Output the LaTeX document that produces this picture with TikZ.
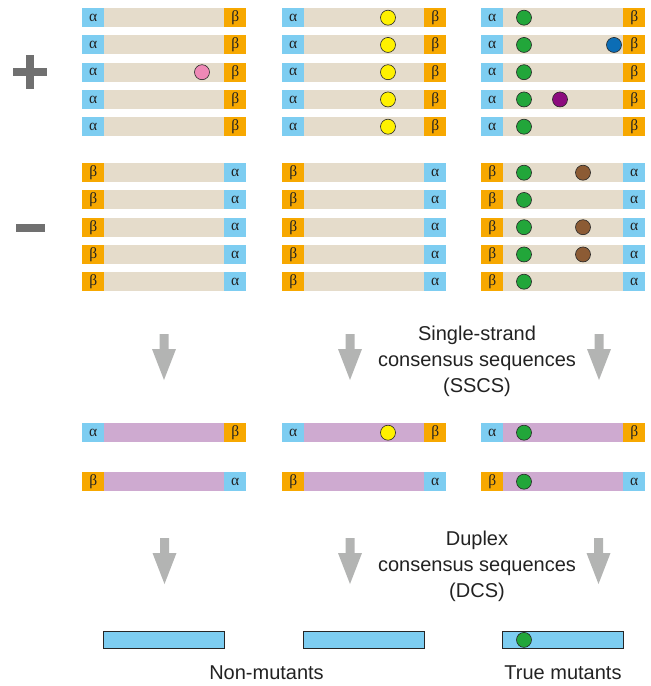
\documentclass[tikz,border=0pt]{standalone}
\usepackage{fontspec}
\setmainfont{Liberation Sans}
\newfontfamily\greekfont{Liberation Serif}
\usetikzlibrary{positioning}

\definecolor{beige}{HTML}{E5DCCB}
\definecolor{alphablue}{HTML}{7DCDF1}
\definecolor{betaorange}{HTML}{F7A800}
\definecolor{lilac}{HTML}{CEAAD0}
\definecolor{arrowgray}{HTML}{B3B4B3}
\definecolor{signgray}{HTML}{707070}
\definecolor{dotgreen}{HTML}{22A63A}
\definecolor{dotyellow}{HTML}{FFF100}
\definecolor{dotpink}{HTML}{EF89B6}
\definecolor{dotblue}{HTML}{0C6DB5}
\definecolor{dotpurple}{HTML}{8C0B7E}
\definecolor{dotbrown}{HTML}{8C5B34}
\definecolor{inktext}{HTML}{222222}

\begin{document}
\begin{tikzpicture}[
x=1pt,y=-1pt,
strand/.style={
  draw=none,
  fill=beige,
  minimum width=164pt,
  minimum height=19pt,
  inner sep=0pt,
  anchor=north west
  },
tag/.style={
  minimum width=22pt,
  minimum height=19pt,
  inner sep=0pt,
  text=inktext,
  font=\greekfont\fontsize{15.5}{15.5}\selectfont
  },
tagA/.style={tag, fill=alphablue},
tagB/.style={tag, fill=betaorange},
dot/.style={
  circle,
  draw=black!85,
  line width=0.6pt,
  minimum size=15pt,
  inner sep=0pt
  },
dcsbar/.style={
  draw=black!85,
  fill=alphablue,
  line width=0.8pt,
  minimum width=121pt,
  minimum height=17pt,
  inner sep=0pt,
  anchor=north west
  },
caption/.style={
  align=center,
  text=inktext,
  font=\fontsize{20}{26}\selectfont
  },
blockarrow/.style={fill=arrowgray, draw=none}
]
\useasboundingbox (0,0) rectangle (651,686);

% plus and minus signs
\fill[signgray] (13,68) rectangle (47,76);
\fill[signgray] (26,55) rectangle (34,89);
\fill[signgray] (16,224) rectangle (45,232);

% reads
\foreach \g/\gx in {1/82,2/282,3/481}
{\foreach \r in {1,...,5}
  {\pgfmathsetmacro\py{8+27.25*(\r-1)}
   \pgfmathsetmacro\my{163+27.25*(\r-1)}
   \node[strand] (p-\g-\r) at (\gx,\py) {};
   \node[tagA, anchor=west] (pa-\g-\r) at (p-\g-\r.west) {α};
   \node[tagB, anchor=east] (pb-\g-\r) at (p-\g-\r.east) {β};
   \node[strand] (m-\g-\r) at (\gx,\my) {};
   \node[tagB, anchor=west] (mb-\g-\r) at (m-\g-\r.west) {β};
   \node[tagA, anchor=east] (ma-\g-\r) at (m-\g-\r.east) {α};
  }
}

% mutations in the reads
\node[dot, fill=dotpink] (pk-1-3) at ([xshift=120pt]p-1-3.west) {};
\foreach \r in {1,...,5}
{\node[dot, fill=dotyellow] (py-2-\r) at ([xshift=106pt]p-2-\r.west) {};
 \node[dot, fill=dotgreen] (pg-3-\r) at ([xshift=43pt]p-3-\r.west) {};
 \node[dot, fill=dotgreen] (mg-3-\r) at ([xshift=43pt]m-3-\r.west) {};
}
\node[dot, fill=dotblue] (pbl-3-2) at ([xshift=133pt]p-3-2.west) {};
\node[dot, fill=dotpurple] (pp-3-4) at ([xshift=79pt]p-3-4.west) {};
\foreach \r in {1,3,4}
  \node[dot, fill=dotbrown] (mbr-3-\r) at ([xshift=102pt]m-3-\r.west) {};

% SSCS
\foreach \g/\gx in {1/82,2/282,3/481}
{\node[strand, fill=lilac] (s-\g-1) at (\gx,423) {};
 \node[tagA, anchor=west] (sa-\g-1) at (s-\g-1.west) {α};
 \node[tagB, anchor=east] (sb-\g-1) at (s-\g-1.east) {β};
 \node[strand, fill=lilac] (s-\g-2) at (\gx,472) {};
 \node[tagB, anchor=west] (sb-\g-2) at (s-\g-2.west) {β};
 \node[tagA, anchor=east] (sa-\g-2) at (s-\g-2.east) {α};
}
\node[dot, fill=dotyellow] (sy-2-1) at ([xshift=106pt]s-2-1.west) {};
\node[dot, fill=dotgreen] (sg-3-1) at ([xshift=43pt]s-3-1.west) {};
\node[dot, fill=dotgreen] (sg-3-2) at ([xshift=43pt]s-3-2.west) {};

% DCS
\node[dcsbar] (d-1) at (103,631) {};
\node[dcsbar] (d-2) at (303,631) {};
\node[dcsbar] (d-3) at (502,631) {};
\node[dot, fill=dotgreen] (dg-3) at ([xshift=22pt]d-3.west) {};

% arrows
\coordinate (a-1) at (164,334);
\coordinate (a-2) at (350,334);
\coordinate (a-3) at (599,334);
\coordinate (b-1) at (164.5,538);
\coordinate (b-2) at (350,538);
\coordinate (b-3) at (598.5,538);
\foreach \a in {a-1,a-2,a-3,b-1,b-2,b-3}
  \fill[blockarrow] (\a) ++(-4.5,0) -- ++(9,0) -- ++(0,15) -- ++(7.5,0)
    -- ++(-12,31) -- ++(-12,-31) -- ++(7.5,0) -- cycle;

% labels
\node[caption] (sscs) at (477,361) {Single-strand\\consensus sequences\\(SSCS)};
\node[caption] (dcs) at (477,566) {Duplex\\consensus sequences\\(DCS)};
\node[caption] (nonmut) at (266.5,673) {Non-mutants};
\node[caption] (truemut) at (563,673) {True mutants};

\end{tikzpicture}
\end{document}
